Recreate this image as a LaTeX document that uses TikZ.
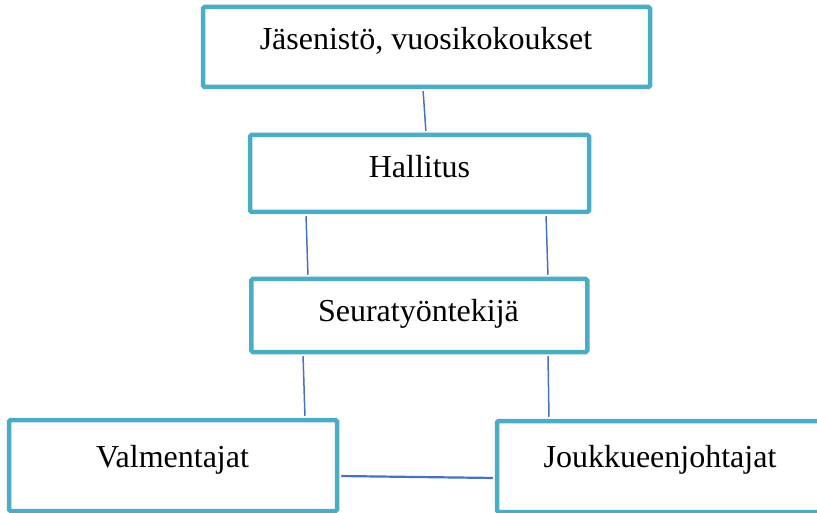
\documentclass[tikz,border=0pt]{standalone}
\usepackage{fontspec}
\setmainfont{Liberation Serif}
\definecolor{boxblue}{HTML}{4BACC6}
\definecolor{linkblue}{HTML}{4472C4}
\begin{document}
\begin{tikzpicture}[x=1pt,y=-1pt,
  orgbox/.style={draw=boxblue,line width=4.5pt,rounded corners=1.5pt,fill=white,inner sep=0pt},
  lbl/.style={anchor=base,inner sep=0pt,font=\fontsize{32}{38}\selectfont},
  conn/.style={draw=linkblue,line width=1.5pt}]
\useasboundingbox (0,0) rectangle (817,513);
\clip (0,0) rectangle (817,513);
% boxes
\node[orgbox,minimum width=447pt,minimum height=80pt] (top) at (426.5,47) {};
\node[orgbox,minimum width=339pt,minimum height=77pt] (hal) at (419.5,173.5) {};
\node[orgbox,minimum width=336pt,minimum height=73pt] (seu) at (419.25,315.5) {};
\node[orgbox,minimum width=328pt,minimum height=91pt] (val) at (173,465.5) {};
\node[orgbox,minimum width=326pt,minimum height=91pt] (jou) at (660,466.5) {};
% labels
\node[lbl] (ttop) at (426,50) {Jäsenistö, vuosikokoukset};
\node[lbl] (thal) at (419.5,178) {Hallitus};
\node[lbl] (tseu) at (418.5,321) {Seuratyöntekijä};
\node[lbl] (tval) at (172.5,467) {Valmentajat};
\node[lbl] (tjou) at (660,467) {Joukkueenjohtajat};
% connectors
\draw[conn,shorten <=2pt,shorten >=2pt] ([xshift=-3.5pt]top.south) -- ([xshift=6.5pt]hal.north);
\draw[conn,shorten <=2pt,shorten >=2pt] ([xshift=-113.5pt]hal.south) -- ([xshift=-111.25pt]seu.north);
\draw[conn,shorten <=2pt,shorten >=2pt] ([xshift=126.5pt]hal.south) -- ([xshift=128.75pt]seu.north);
\draw[conn,shorten <=2pt,shorten >=2pt] ([xshift=-116.25pt]seu.south) -- ([xshift=132pt]val.north);
\draw[conn,shorten <=2pt,shorten >=2pt] ([xshift=128.75pt]seu.south) -- ([xshift=-111pt]jou.north);
\draw[conn,line width=2.2pt,shorten <=2pt,shorten >=2pt] ([yshift=-10.5pt]val.east) -- ([yshift=-11.5pt]jou.west);
\end{tikzpicture}
\end{document}
